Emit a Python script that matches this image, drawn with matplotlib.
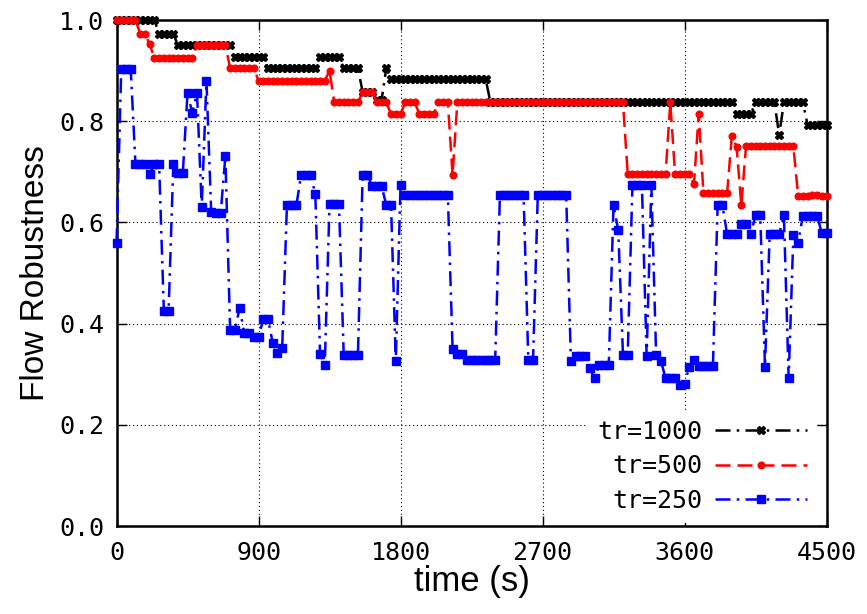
import numpy as np
import matplotlib
matplotlib.use("Agg")
import matplotlib.pyplot as plt

# sample times (s), one reading every 30 s
time_s = np.arange(0, 4501, 30)

tr1000 = [
    1.0, 1.0, 1.0, 1.0, 1.0, 1.0, 1.0, 1.0, 1.0,
    0.972, 0.972, 0.972, 0.972,
    0.95, 0.95, 0.95, 0.95, 0.95, 0.95, 0.95, 0.95, 0.95, 0.95, 0.95, 0.95,
    0.927, 0.927, 0.927, 0.927, 0.927, 0.927, 0.927,
    0.905, 0.905, 0.905, 0.905, 0.905, 0.905, 0.905, 0.905, 0.905, 0.905, 0.905,
    0.927, 0.927, 0.927, 0.927, 0.927,
    0.905, 0.905, 0.905, 0.905,
    0.858, 0.858, 0.858,
    0.842, 0.842,
    0.905,
    0.883, 0.883, 0.883, 0.883, 0.883, 0.883, 0.883, 0.883, 0.883, 0.883,
    0.883, 0.883, 0.883, 0.883, 0.883, 0.883, 0.883, 0.883, 0.883, 0.883, 0.883,
    0.837, 0.837, 0.837, 0.837, 0.837, 0.837, 0.837, 0.837, 0.837, 0.837,
    0.837, 0.837, 0.837, 0.837, 0.837, 0.837, 0.837, 0.837, 0.837, 0.837,
    0.837, 0.837, 0.837, 0.837, 0.837, 0.837, 0.837, 0.837, 0.837, 0.837,
    0.837, 0.837, 0.837, 0.837, 0.837, 0.837, 0.837, 0.837, 0.837, 0.837,
    0.837, 0.837, 0.837, 0.837, 0.837, 0.837, 0.837, 0.837, 0.837, 0.837,
    0.837, 0.837,
    0.814, 0.814, 0.814, 0.814,
    0.837, 0.837, 0.837, 0.837, 0.837,
    0.773,
    0.837, 0.837, 0.837, 0.837, 0.837,
    0.793, 0.793, 0.793, 0.793, 0.793,
]

tr500 = [
    1.0, 1.0, 1.0, 1.0, 1.0,
    0.973, 0.973,
    0.952,
    0.925, 0.925, 0.925, 0.925, 0.925, 0.925, 0.925, 0.925, 0.925,
    0.95, 0.95, 0.95, 0.95, 0.95, 0.95, 0.95,
    0.905, 0.905, 0.905, 0.905, 0.905, 0.905,
    0.88, 0.88, 0.88, 0.88, 0.88, 0.88, 0.88, 0.88, 0.88, 0.88,
    0.88, 0.88, 0.88, 0.88, 0.88,
    0.90,
    0.837, 0.837, 0.837, 0.837, 0.837, 0.837,
    0.857, 0.857, 0.857,
    0.837, 0.837, 0.837,
    0.814, 0.814, 0.814,
    0.837, 0.837, 0.837,
    0.814, 0.814, 0.814, 0.814,
    0.837, 0.837, 0.837,
    0.694,
    0.837, 0.837, 0.837, 0.837, 0.837, 0.837, 0.837, 0.837, 0.837, 0.837,
    0.837, 0.837, 0.837, 0.837, 0.837, 0.837, 0.837, 0.837, 0.837, 0.837,
    0.837, 0.837, 0.837, 0.837, 0.837, 0.837, 0.837, 0.837, 0.837, 0.837,
    0.837, 0.837, 0.837, 0.837, 0.837, 0.837,
    0.696, 0.696, 0.696, 0.696, 0.696, 0.696, 0.696, 0.696, 0.696,
    0.837,
    0.696, 0.696, 0.696, 0.696,
    0.676,
    0.814,
    0.658, 0.658, 0.658, 0.658, 0.658, 0.658,
    0.771,
    0.75,
    0.634,
    0.751, 0.751, 0.751, 0.751, 0.751, 0.751, 0.751, 0.751, 0.751, 0.751, 0.751,
    0.652, 0.652, 0.652, 0.655, 0.655, 0.652, 0.652,
]

tr250 = [
    0.559,
    0.903, 0.903, 0.903,
    0.715, 0.715, 0.715,
    0.696,
    0.715, 0.715,
    0.425, 0.425,
    0.715,
    0.697, 0.697,
    0.856, 0.816, 0.856, 0.631, 0.88, 0.621, 0.618, 0.618, 0.731,
    0.387, 0.387, 0.431, 0.381, 0.381, 0.373, 0.373, 0.409, 0.409,
    0.362, 0.342, 0.352,
    0.634, 0.634, 0.634,
    0.694, 0.694, 0.694,
    0.656, 0.34, 0.318,
    0.636, 0.636, 0.636,
    0.338, 0.338, 0.338, 0.338,
    0.694, 0.694,
    0.672, 0.672, 0.672,
    0.634, 0.634,
    0.326, 0.674,
    0.654, 0.654, 0.654, 0.654, 0.654, 0.654, 0.654, 0.654, 0.654, 0.654,
    0.35, 0.34, 0.34,
    0.328, 0.328, 0.328, 0.328, 0.328, 0.328, 0.328,
    0.654, 0.654, 0.654, 0.654, 0.654, 0.654,
    0.328, 0.328,
    0.654, 0.654, 0.654, 0.654, 0.654, 0.654, 0.654,
    0.327,
    0.336, 0.336, 0.336,
    0.312, 0.292,
    0.318, 0.318, 0.318,
    0.634, 0.585,
    0.338, 0.338,
    0.674, 0.674, 0.674,
    0.336, 0.674, 0.338, 0.327,
    0.292, 0.292, 0.292,
    0.279, 0.28, 0.315, 0.328,
    0.316, 0.316, 0.316, 0.316,
    0.634, 0.634,
    0.577, 0.577, 0.577,
    0.597, 0.597,
    0.577,
    0.614, 0.614,
    0.315,
    0.577, 0.577, 0.577,
    0.614, 0.292, 0.575, 0.56,
    0.613, 0.613, 0.613, 0.613,
    0.579, 0.579,
]

series_labels = ["tr=1000", "tr=500", "tr=250"]
x_ticks = [0, 900, 1800, 2700, 3600, 4500]
y_ticks = [0.0, 0.2, 0.4, 0.6, 0.8, 1.0]

mono = "DejaVu Sans Mono"
sans = "Liberation Sans"

fig = plt.figure(figsize=(8.67, 6.14), dpi=100)
ax = fig.add_axes([0.1344, 0.1433, 0.8189, 0.8241])

ax.plot(time_s, tr1000, color="black", lw=1.8, ls=(0, (6, 2.5, 1, 2.5)),
        marker="X", ms=6.2, clip_on=False, label=series_labels[0], zorder=3)
ax.plot(time_s, tr500, color="#ff0000", lw=1.8, ls=(0, (6, 2.8)),
        marker="o", ms=4.8, clip_on=False, label=series_labels[1], zorder=4)
ax.plot(time_s, tr250, color="#0000ff", lw=1.8, ls=(0, (6, 2.5, 1, 2.5)),
        marker="s", ms=5.2, clip_on=False, label=series_labels[2], zorder=5)

ax.set_xlim(0, 4500)
ax.set_ylim(0, 1.0)
ax.set_xticks(x_ticks)
ax.set_yticks(y_ticks)
ax.set_xticklabels([str(v) for v in x_ticks], family=mono, fontsize=18)
ax.set_yticklabels([f"{v:.1f}" for v in y_ticks], family=mono, fontsize=18)
ax.tick_params(direction="in", length=7, width=1, top=True, right=True)
ax.tick_params(axis="x", pad=11)
ax.tick_params(axis="y", pad=9)

ax.grid(True, color="black", lw=0.8, ls=(0, (1, 2.5)))
for s in ax.spines.values():
    s.set_linewidth(1.8)

ax.set_xlabel("time (s)", family=sans, fontsize=25, labelpad=0)
ax.set_ylabel("Flow Robustness", family=sans, fontsize=24, labelpad=6)

leg = ax.legend(loc="lower right", bbox_to_anchor=(0.987, 0.006),
                markerfirst=False, numpoints=1, handlelength=3.7,
                handletextpad=0.48, labelspacing=0.42, borderpad=0.4,
                borderaxespad=0.0,
                prop={"family": mono, "size": 18}, fancybox=False,
                facecolor="white", edgecolor="none", framealpha=1)

fig.savefig("out.png", dpi=100)
